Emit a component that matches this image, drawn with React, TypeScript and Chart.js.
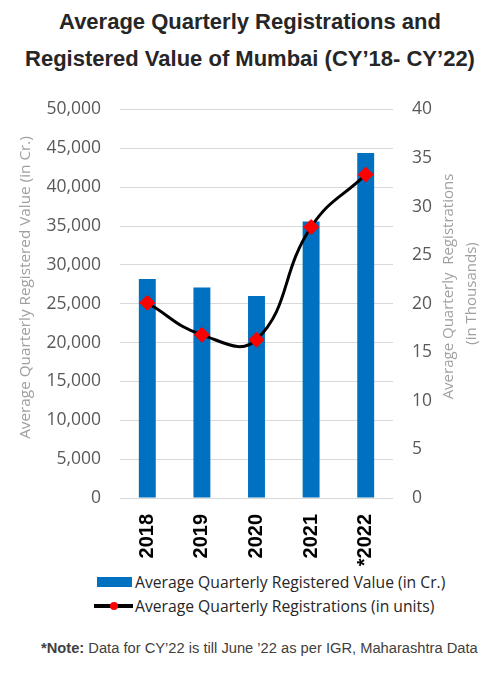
import { useRef, useEffect } from 'react';
import { Chart, registerables } from 'chart.js';

Chart.register(...registerables);

const years = ['2018', '2019', '2020', '2021', '*2022'];
// Average quarterly registered value (in Cr.)
const registeredValue = [28200, 27100, 26000, 35600, 44400];
// Average quarterly registrations (in thousands)
const registrations = [20.1, 16.8, 16.3, 27.9, 33.3];

const leftTitle = 'Average Quarterly Registered Value (in Cr.)';
const rightTitle = ['Average Quarterly  Registrations', '(in Thousands)'];

const tickFont = { family: '"Open Sans", sans-serif', size: 17.5 };
const tickColor = '#595959';
const titleColor = '#a0a0a0';

// draws both axis titles reading bottom-to-top, like the original
const axisTitles = {
  id: 'axisTitles',
  afterDraw(chart: Chart) {
    const { ctx, chartArea } = chart;
    const top = chartArea.top;
    ctx.save();
    ctx.fillStyle = titleColor;
    ctx.textAlign = 'center';
    ctx.textBaseline = 'middle';
    ctx.font = '15.3px "Open Sans", sans-serif';
    ctx.translate(26, top + 178);
    ctx.rotate(-Math.PI / 2);
    ctx.fillText(leftTitle, 0, 0);
    ctx.restore();

    ctx.save();
    ctx.fillStyle = titleColor;
    ctx.textAlign = 'center';
    ctx.textBaseline = 'middle';
    ctx.font = '15px "Open Sans", sans-serif';
    ctx.translate(449, top + 177);
    ctx.rotate(-Math.PI / 2);
    ctx.fillText(rightTitle[0], 0, 0);
    ctx.restore();

    ctx.save();
    ctx.fillStyle = titleColor;
    ctx.textAlign = 'center';
    ctx.textBaseline = 'middle';
    ctx.font = '15px "Open Sans", sans-serif';
    ctx.translate(472, top + 184);
    ctx.rotate(-Math.PI / 2);
    ctx.fillText(rightTitle[1], 0, 0);
    ctx.restore();
  },
};

export default function App() {
  const canvasRef = useRef<HTMLCanvasElement>(null);

  useEffect(() => {
    if (!canvasRef.current) return;
    const chart = new Chart(canvasRef.current, {
      type: 'bar',
      data: {
        labels: years,
        datasets: [
          {
            type: 'line',
            label: 'Average Quarterly Registrations (in units)',
            data: registrations,
            yAxisID: 'y1',
            borderColor: '#000000',
            borderWidth: 3,
            tension: 0.45,
            pointStyle: 'rectRot',
            pointRadius: 7.5,
            pointBackgroundColor: '#ff0000',
            pointBorderColor: '#ff0000',
            pointBorderWidth: 1,
            order: 0,
          },
          {
            type: 'bar',
            label: 'Average Quarterly Registered Value (in Cr.)',
            data: registeredValue,
            yAxisID: 'y',
            backgroundColor: '#0070C0',
            barPercentage: 0.31,
            categoryPercentage: 1,
            order: 1,
          },
        ],
      },
      options: {
        animation: false,
        responsive: false,
        layout: { padding: { top: 25, left: 0, right: 0, bottom: 0 } },
        plugins: {
          legend: { display: false },
          tooltip: { enabled: false },
        },
        scales: {
          x: {
            grid: { display: false, drawTicks: false },
            border: { display: false },
            ticks: {
              autoSkip: false,
              minRotation: 90,
              maxRotation: 90,
              padding: 16,
              color: '#000000',
              font: { family: '"Liberation Sans", Arial, sans-serif', size: 20, weight: 'bold' },
            },
            afterFit: (scale) => {
              scale.height = 72;
            },
          },
          y: {
            position: 'left',
            min: 0,
            max: 50000,
            grid: { color: '#d9d9d9', lineWidth: 1, drawTicks: false },
            border: { display: false },
            ticks: {
              stepSize: 5000,
              padding: 19,
              color: tickColor,
              font: tickFont,
              callback: (v) => Number(v).toLocaleString('en-US'),
            },
            afterFit: (scale) => {
              scale.width = 120;
            },
          },
          y1: {
            position: 'right',
            min: 0,
            max: 40,
            grid: { drawOnChartArea: false, drawTicks: false },
            border: { display: false },
            ticks: {
              stepSize: 5,
              padding: 19,
              color: tickColor,
              font: tickFont,
            },
            afterFit: (scale) => {
              scale.width = 107;
            },
          },
        },
      },
      plugins: [axisTitles],
    });
    return () => chart.destroy();
  }, []);

  return (
    <div style={{ position: 'fixed', left: 0, top: 0, width: 500, height: 674, background: '#ffffff', overflow: 'hidden' }}>
      <div
        style={{
          position: 'absolute',
          top: 3,
          left: 0,
          width: 500,
          textAlign: 'center',
          fontFamily: '"Liberation Sans", Arial, sans-serif',
          fontWeight: 'bold',
          fontSize: 22,
          lineHeight: '37px',
          color: '#262626',
        }}
      >
        Average Quarterly Registrations and
        <br />
        Registered Value of Mumbai (CY’18- CY’22)
      </div>
      <canvas ref={canvasRef} width={500} height={490} style={{ position: 'absolute', top: 80, left: 0, width: 500, height: 490 }} />
      <div
        style={{
          position: 'absolute',
          top: 570,
          left: 94,
          fontFamily: '"Open Sans", sans-serif',
          fontSize: 15.7,
          color: '#262626',
          lineHeight: '24px',
          whiteSpace: 'nowrap',
        }}
      >
        <div style={{ display: 'flex', alignItems: 'center' }}>
          <span style={{ display: 'inline-block', width: 35, height: 10, background: '#0070C0', marginLeft: 3, marginRight: 3 }} />
          Average Quarterly Registered Value (in Cr.)
        </div>
        <div style={{ display: 'flex', alignItems: 'center' }}>
          <span style={{ position: 'relative', display: 'inline-block', width: 39, height: 4, background: '#000', marginRight: 2 }}>
            <span style={{ position: 'absolute', left: 16, top: -2, width: 8, height: 8, borderRadius: 4, background: '#ff0000' }} />
          </span>
          Average Quarterly Registrations (in units)
        </div>
      </div>
      <div
        style={{
          position: 'absolute',
          top: 640,
          left: 0,
          width: 500,
          paddingLeft: 41,
          boxSizing: 'border-box',
          fontFamily: '"Liberation Sans", Arial, sans-serif',
          fontSize: 14.7,
          color: '#404040',
          whiteSpace: 'nowrap',
        }}
      >
        <b>*Note:</b> Data for CY’22 is till June ’22 as per IGR, Maharashtra Data
      </div>
    </div>
  );
}
